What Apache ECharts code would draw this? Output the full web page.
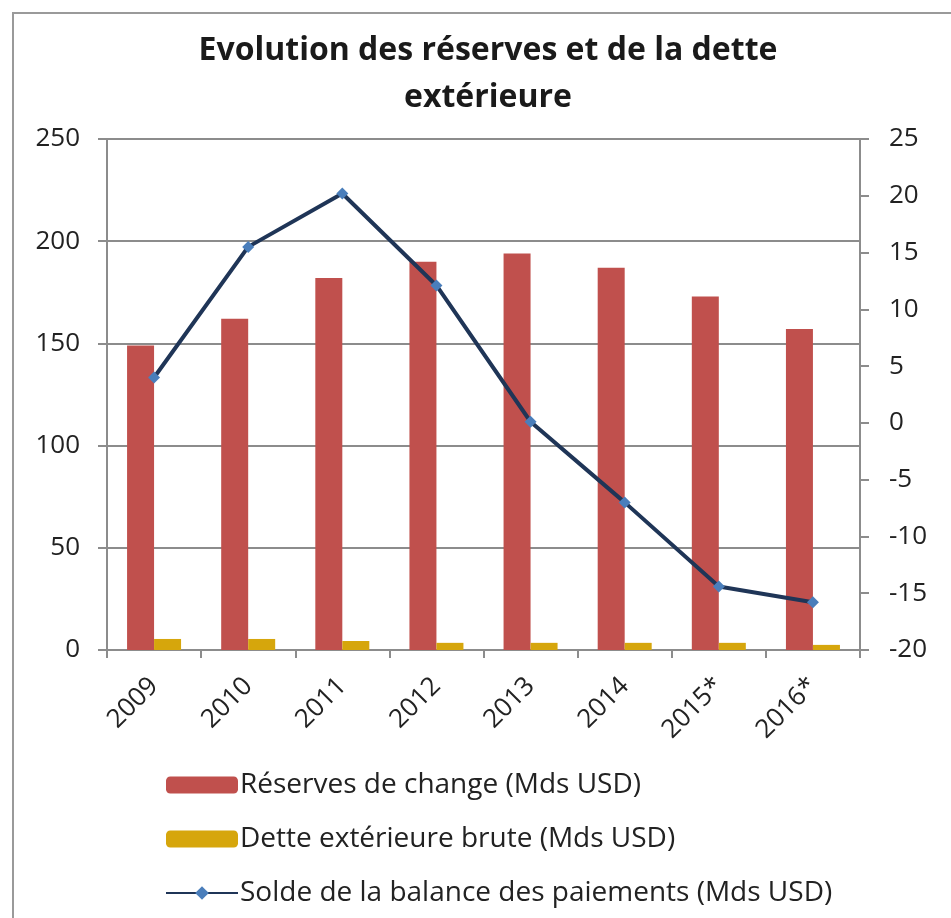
<!DOCTYPE html>
<html>
<head>
<meta charset="utf-8">
<script src="https://cdn.jsdelivr.net/npm/echarts@6/dist/echarts.min.js"></script>
<style>
  html, body { margin: 0; padding: 0; background: #fff; }
  #frame {
    position: absolute; left: 12px; top: 12px; width: 960px; height: 930px;
    border: 2px solid #9a9a9a; box-sizing: border-box;
  }
  #chart { position: absolute; left: 0; top: 0; width: 951px; height: 918px; }
</style>
</head>
<body>
<div id="frame"></div>
<div id="chart"></div>
<script>
// données
var annees = ["2009", "2010", "2011", "2012", "2013", "2014", "2015*", "2016*"];
var reserves = [149, 162, 182, 190, 194, 187, 173, 157];
var dette = [5.4, 5.4, 4.4, 3.5, 3.5, 3.5, 3.5, 2.5];
var solde = [4, 15.5, 20.2, 12.1, 0.1, -7, -14.4, -15.8];

var police = "'Open Sans', sans-serif";
var gris = "#8c8c8c";

var myChart = echarts.init(document.getElementById("chart"));

var option = {
  animation: false,
  title: {
    text: "Evolution des réserves et de la dette\nextérieure",
    left: 483,
    textAlign: "center",
    top: 22,
    textStyle: {
      fontFamily: police,
      fontSize: 32,
      fontWeight: "bold",
      color: "#1a1a1a",
      lineHeight: 47,
    },
  },
  legend: {
    orient: "vertical",
    left: 160,
    top: 766,
    itemWidth: 72,
    itemHeight: 17,
    itemGap: 26,
    textStyle: { fontFamily: police, fontSize: 28, color: "#222", padding: [0, 0, 0, -3] },
    data: [
      "Réserves de change (Mds USD)",
      "Dette extérieure brute (Mds USD)",
      "Solde de la balance des paiements (Mds USD)",
    ],
  },
  grid: { left: 107, right: 91, top: 139, bottom: 268 },
  xAxis: [
    {
      type: "category",
      data: annees,
      axisLine: { lineStyle: { color: gris, width: 2 } },
      axisTick: { show: true, length: 8, lineStyle: { color: gris, width: 2 } },
      axisLabel: {
        rotate: 45,
        margin: 32,
        fontFamily: police,
        fontSize: 26,
        color: "#222",
      },
    },
  ],
  yAxis: [
    {
      type: "value",
      min: 0,
      max: 250,
      interval: 50,
      axisLine: { show: true, lineStyle: { color: gris, width: 2 } },
      axisTick: { show: true, length: 9, lineStyle: { color: gris, width: 2 } },
      axisLabel: { margin: 27, fontFamily: police, fontSize: 26, color: "#222" },
      splitLine: { lineStyle: { color: gris, width: 2 } },
    },
    {
      type: "value",
      min: -20,
      max: 25,
      interval: 5,
      position: "right",
      axisLine: { show: true, lineStyle: { color: gris, width: 2 } },
      axisTick: { show: true, length: 9, lineStyle: { color: gris, width: 2 } },
      axisLabel: { margin: 29, fontFamily: police, fontSize: 26, color: "#222" },
      splitLine: { show: false },
    },
  ],
  series: [
    {
      name: "Réserves de change (Mds USD)",
      type: "bar",
      data: reserves,
      barWidth: 27,
      barGap: "0%",
      itemStyle: { color: "#c0504d" },
    },
    {
      name: "Dette extérieure brute (Mds USD)",
      type: "bar",
      data: dette,
      barWidth: 27,
      itemStyle: { color: "#d6a60c" },
    },
    {
      name: "Solde de la balance des paiements (Mds USD)",
      type: "line",
      yAxisIndex: 1,
      data: solde,
      symbol: "diamond",
      symbolSize: 12,
      lineStyle: { color: "#1f3557", width: 4 },
      itemStyle: { color: "#4a7ebb" },
    },
  ],
};

myChart.setOption(option);
</script>
</body>
</html>
